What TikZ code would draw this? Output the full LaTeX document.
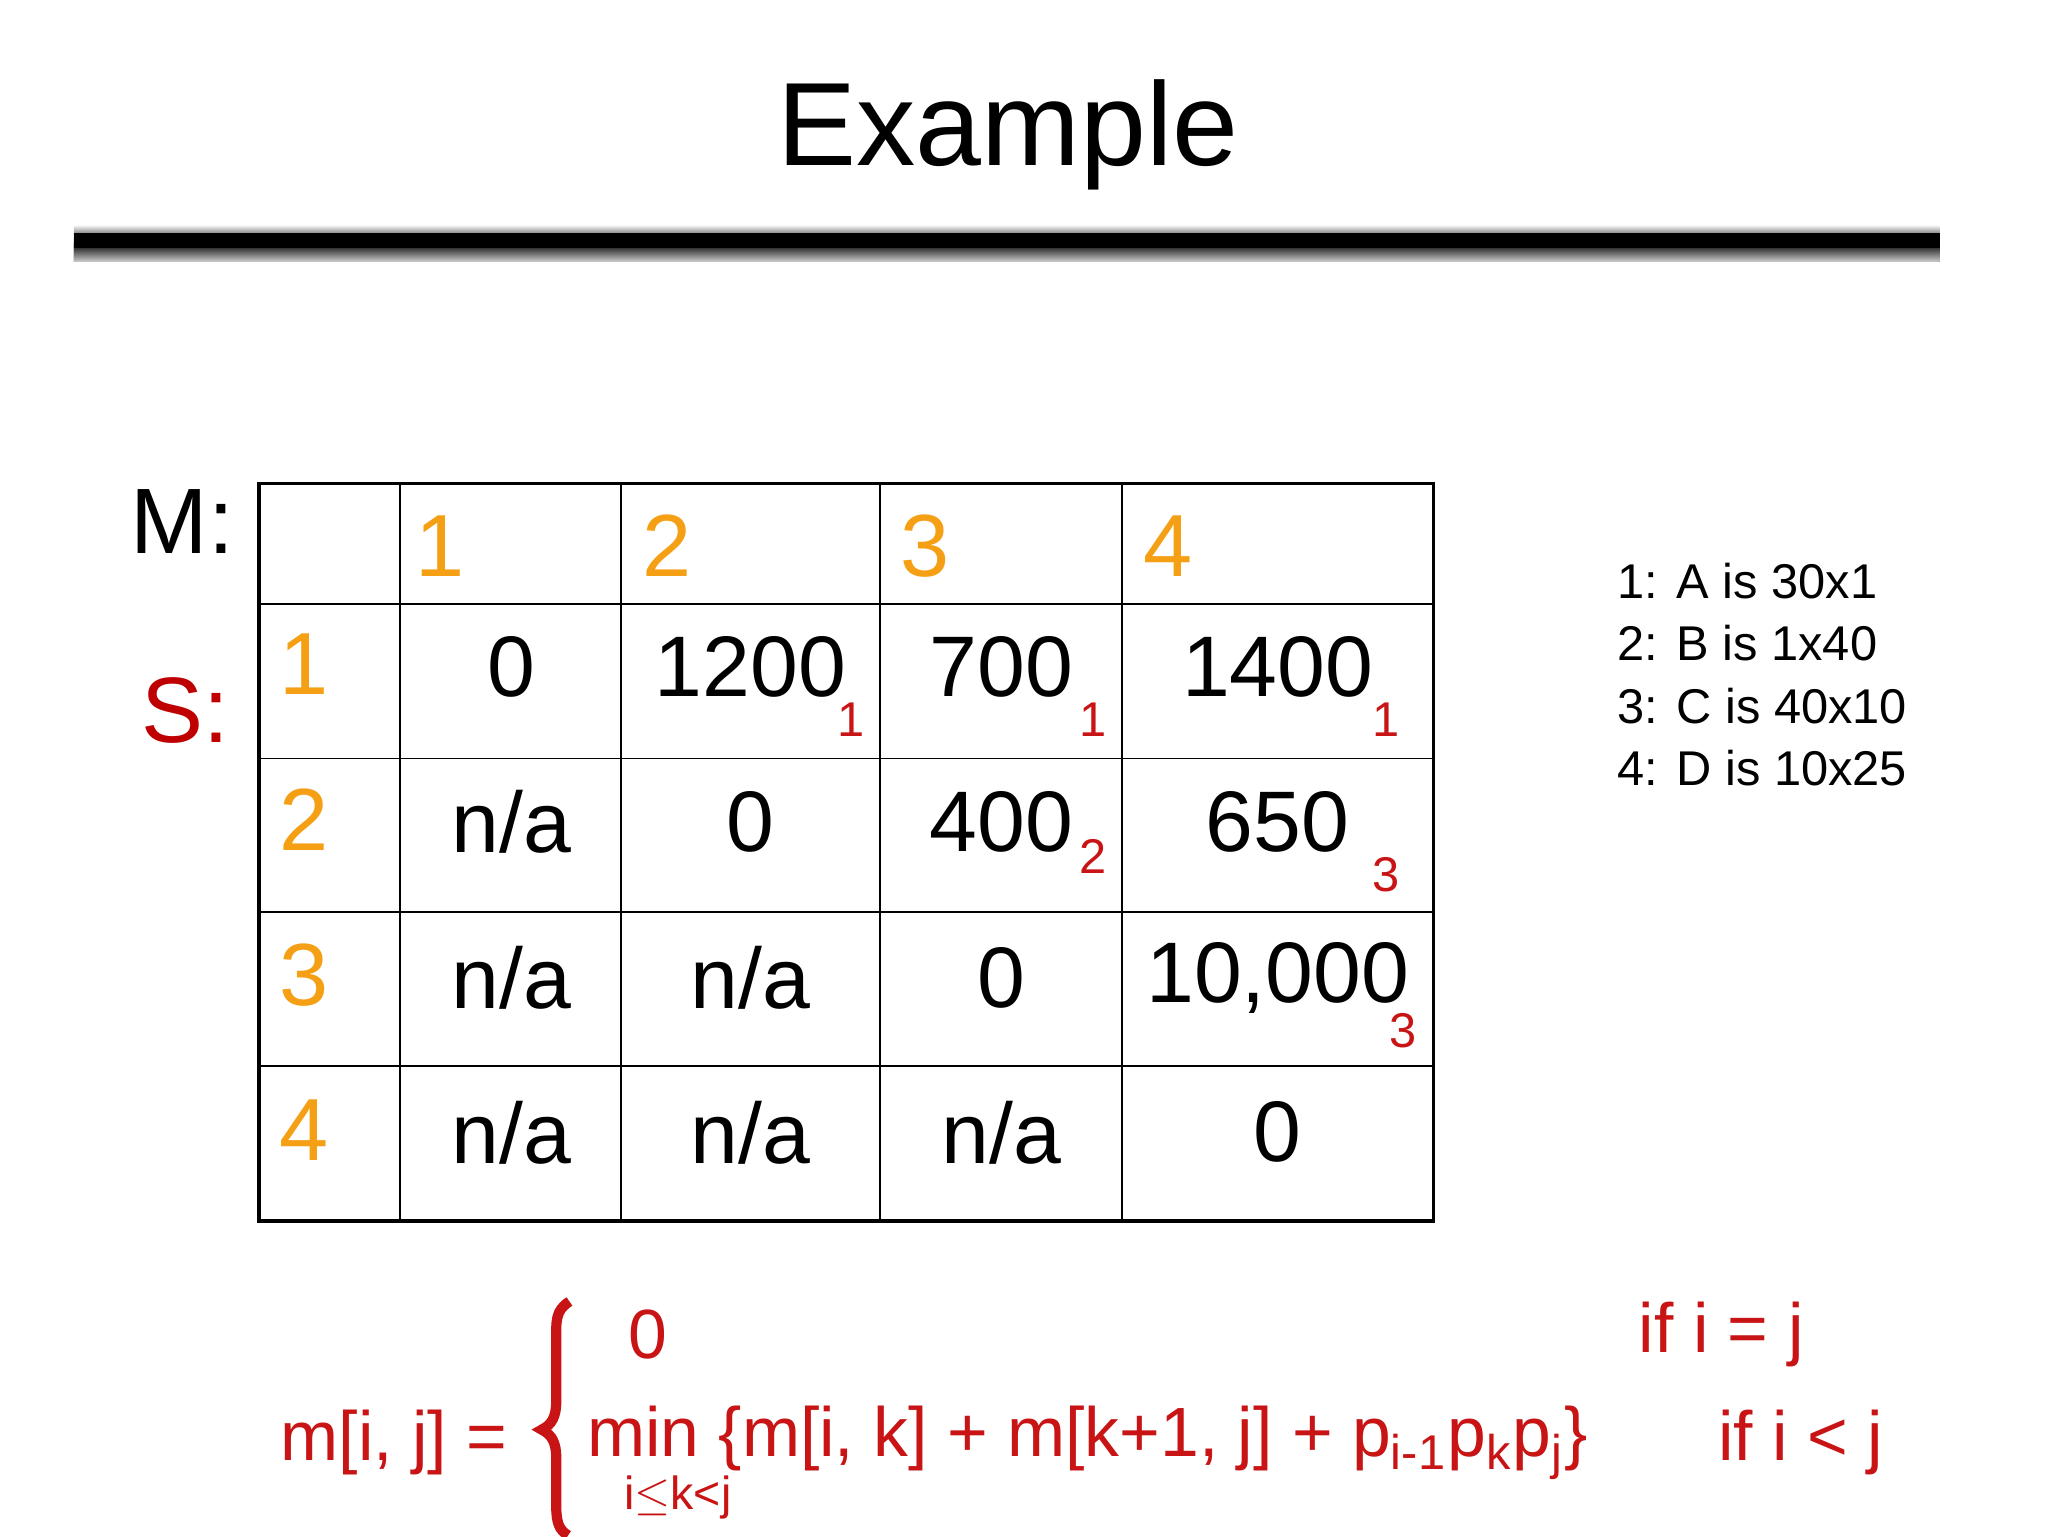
\documentclass[tikz,border=0pt]{standalone}
\usepackage{fontspec}
\setmainfont{Liberation Sans}
\usetikzlibrary{calc}
\definecolor{org}{RGB}{245,160,20}
\definecolor{rd}{RGB}{200,20,20}
\definecolor{sr}{RGB}{190,0,0}
\begin{document}
\begin{tikzpicture}[x=0.01cm,y=-0.01cm,
 num/.style={font=\fontsize{18.5}{20}\selectfont},
 hd/.style={font=\fontsize{19}{20}\selectfont,text=org},
 sub/.style={font=\fontsize{10.5}{12}\selectfont,text=rd},
 leg/.style={font=\fontsize{10.5}{13}\selectfont,anchor=west},
 fm/.style={font=\fontsize{15}{18}\selectfont,text=rd}]
\useasboundingbox (0,0) rectangle (1550,1163);
\node[font=\fontsize{25.5}{30}\selectfont] (title) at (763,102) {Example};
\shade[top color=white,bottom color=black,middle color=black] (56,170) rectangle (1468,198);
\shade[top color=black,bottom color=gray!40] (56,184) rectangle (1468,198);
\fill[black] (56,176) rectangle (1468,188);
% grid
\draw[thick] (196,366) rectangle (1085,924);
\foreach \x in {303,470,666,849} \draw (\x,366) -- (\x,924);
\foreach \y in {457,574,690,807} \draw (196,\y) -- (1085,\y);
\node[font=\fontsize{20}{22}\selectfont] (M) at (138,395) {M:};
\node[font=\fontsize{20}{22}\selectfont,text=sr] (S) at (140,538) {S:};
\foreach \t/\x in {1/333,2/505,3/700,4/884} \node[hd] (h\t) at (\x,413) {\t};
\foreach \t/\y in {1/503,2/620,3/738,4/855} \node[hd] (r\t) at (230,\y) {\t};
\node[num] (a11) at (387,505) {0};
\node[num] (a12) at (568,505) {1200};
\node[num] (a13) at (758,505) {700};
\node[num] (a14) at (967,505) {1400};
\node[sub] (s12) at (644,545) {1};
\node[sub] (s13) at (827,545) {1};
\node[sub] (s14) at (1049,545) {1};
\node[num] (a21) at (387,622) {n/a};
\node[num] (a22) at (568,622) {0};
\node[num] (a23) at (758,622) {400};
\node[num] (a24) at (967,622) {650};
\node[sub] (s23) at (827,648) {2};
\node[sub] (s24) at (1049,662) {3};
\node[num] (a31) at (387,740) {n/a};
\node[num] (a32) at (568,740) {n/a};
\node[num] (a33) at (758,740) {0};
\node[num] (a34) at (967,740) {10,000};
\node[sub] (s34) at (1062,780) {3};
\node[num] (a41) at (387,857) {n/a};
\node[num] (a42) at (568,857) {n/a};
\node[num] (a43) at (758,857) {n/a};
\node[num] (a44) at (967,857) {0};
% legend
\node[leg] (l1) at (1212,440) {1: A is 30x1};
\node[leg] (l2) at (1212,487) {2: B is 1x40};
\node[leg] (l3) at (1212,534) {3: C is 40x10};
\node[leg] (l4) at (1212,581) {4: D is 10x25};
% formula
\node[fm,anchor=west] (lhs) at (200,1092) {m[i, j] =};
\draw[rd,line width=2.2pt] (431,985) .. controls (420,992) and (421,1000) .. (421,1015) -- (421,1060) .. controls (421,1072) and (418,1078) .. (410,1082)
  .. controls (418,1086) and (421,1092) .. (421,1104) -- (421,1140) .. controls (421,1152) and (423,1158) .. (430,1162);
\node[fm] (z) at (490,1010) {0};
\node[fm,anchor=west] (c1) at (1228,1010) {if i = j};
\node[fm,anchor=west] (mn) at (432,1092) {min \{m[i, k] + m[k+1, j] + p\textsubscript{i-1}p\textsubscript{k}p\textsubscript{j}\}};
\node[font=\fontsize{10}{11}\selectfont,text=rd] (idx) at (513,1133) {i$\leq$k<j};
\node[fm,anchor=west] (c2) at (1288,1092) {if i < j};
\end{tikzpicture}
\end{document}
